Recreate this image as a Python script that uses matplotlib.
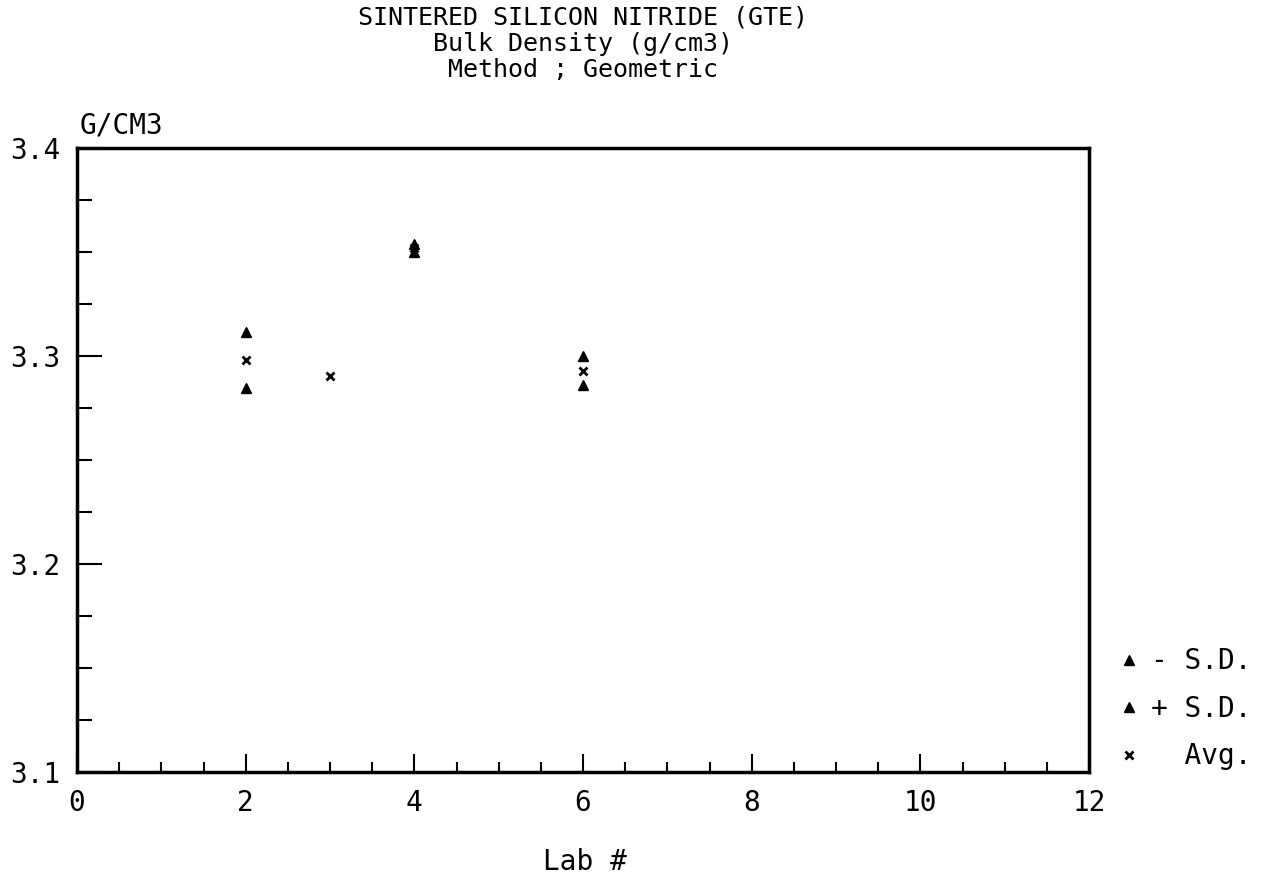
import matplotlib
matplotlib.use("Agg")
import matplotlib.pyplot as plt
from matplotlib.ticker import MultipleLocator

# lab numbers and measured bulk density (g/cm3)
labs_sd = [2, 4, 6]
minus_sd = [3.2846, 3.350, 3.2861]
plus_sd = [3.3115, 3.354, 3.300]
labs_avg = [2, 3, 4, 6]
avg = [3.298, 3.2904, 3.352, 3.2928]

title_lines = ["SINTERED SILICON NITRIDE (GTE)", "Bulk Density (g/cm3)", "Method ; Geometric"]

plt.rcParams['font.family'] = ['DejaVu Sans Mono']
fs = 20

fig = plt.figure(figsize=(12.85, 8.91), dpi=100)
ax = fig.add_axes([77 / 1285, 1 - 772 / 891, 1012 / 1285, 624 / 891])

ax.plot(labs_sd, minus_sd, linestyle='none', marker='^', color='black', markersize=7, label='- S.D.')
ax.plot(labs_sd, plus_sd, linestyle='none', marker='^', color='black', markersize=7, label='+ S.D.')
ax.plot(labs_avg, avg, linestyle='none', marker='x', color='black', markersize=6,
        markeredgewidth=2, label='  Avg.')

ax.set_xlim(0, 12)
ax.set_ylim(3.1, 3.4)
ax.xaxis.set_major_locator(MultipleLocator(2))
ax.xaxis.set_minor_locator(MultipleLocator(0.5))
ax.yaxis.set_major_locator(MultipleLocator(0.1))
ax.yaxis.set_minor_locator(MultipleLocator(0.025))
ax.set_yticks([3.1, 3.2, 3.3, 3.4])
ax.set_yticklabels(["3.1", "3.2", "3.3", "3.4"])
ax.tick_params(axis='both', which='both', direction='in', width=1.5, labelsize=fs)
ax.tick_params(axis='x', which='major', length=13, pad=12)
ax.tick_params(axis='x', which='minor', length=7)
ax.tick_params(axis='y', which='major', length=18, pad=12)
ax.tick_params(axis='y', which='minor', length=11)
for s in ax.spines.values():
    s.set_linewidth(2.5)

for i, line in enumerate(title_lines):
    fig.text(583 / 1285, 1 - (18 + 26 * i) / 891, line, ha='center', va='center', fontsize=18)
fig.text(80 / 1285, 1 - 125 / 891, "G/CM3", ha='left', va='center', fontsize=fs)
fig.text(585 / 1285, 1 - 862 / 891, "Lab #", ha='center', va='center', fontsize=fs)

ax.legend(loc='lower left', bbox_to_anchor=(1.012, -0.015), frameon=False, fontsize=fs,
          handlelength=1.2, handletextpad=0.2, labelspacing=0.7, borderaxespad=0)

fig.savefig("out.png", dpi=100)
